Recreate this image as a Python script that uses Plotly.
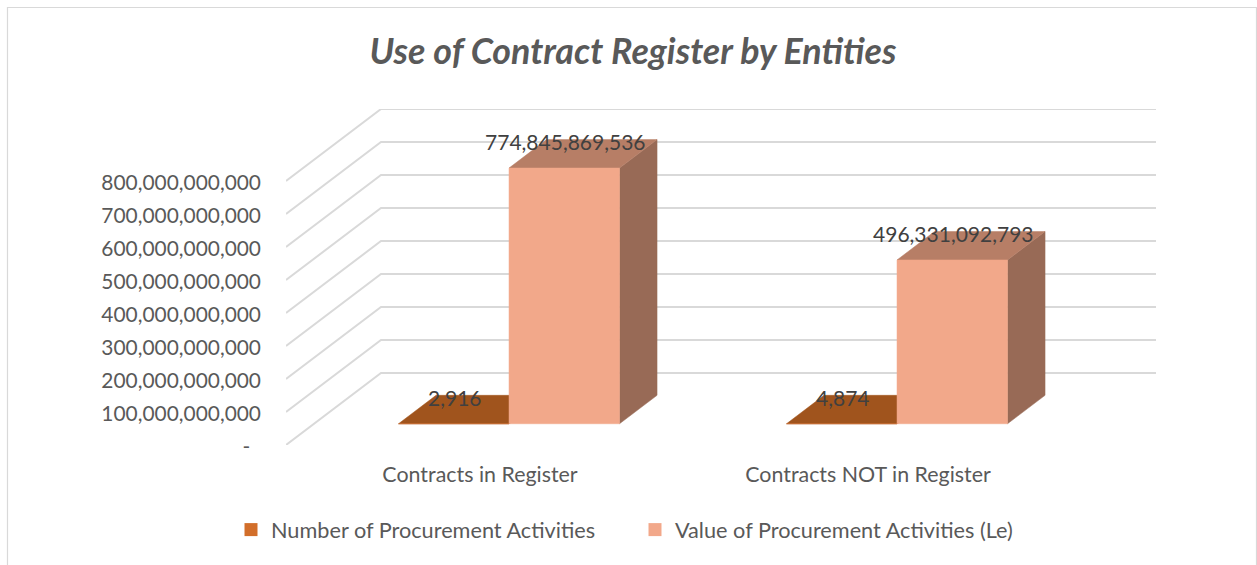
import plotly.graph_objects as go

# ---- data ----
categories = ["Contracts in Register", "Contracts NOT in Register"]
series_names = ["Number of Procurement Activities", "Value of Procurement Activities (Le)"]
number_of_activities = [2916, 4874]
value_of_activities = [774845869536, 496331092793]
y_ticks = [0, 100e9, 200e9, 300e9, 400e9, 500e9, 600e9, 700e9, 800e9]
y_tick_labels = ["-\u00a0\u00a0", "100,000,000,000", "200,000,000,000", "300,000,000,000", "400,000,000,000",
                 "500,000,000,000", "600,000,000,000", "700,000,000,000", "800,000,000,000"]

# ---- oblique-projection settings, expressed in axis units ----
PX_PER_CAT = 388.0
PX_PER_VAL = 33.0 / 100e9
DEPTH_DX = 95 / PX_PER_CAT          # full floor depth along x
DEPTH_DY = 72 / PX_PER_VAL          # full floor depth along y
BAR_W = 110.5 / PX_PER_CAT
BAR_SHIFT = 1 / PX_PER_CAT
D0, D1 = 0.295, 0.69                # bar front and back in floor depth
FONT = "Lato"
TXT = "#595959"
GRID = "#d9d9d9"
FACES = [dict(front="#C8662A", top="#A0541D", side="#7a3f16"),
         dict(front="#F2A88A", top="#B77E66", side="#986A56")]
LEGEND_COL = ["#D26E2A", "#F2A88A"]


def proj(x, v, d):
    return x + d * DEPTH_DX, v + d * DEPTH_DY


def poly(points, color):
    xs = [p[0] for p in points] + [points[0][0]]
    ys = [p[1] for p in points] + [points[0][1]]
    return go.Scatter(x=xs, y=ys, mode="lines", fill="toself", fillcolor=color,
                      line=dict(color=color, width=0.5), showlegend=False, hoverinfo="skip")


fig = go.Figure()

# gridlines: side wall then back wall
for t in y_ticks:
    a = proj(-0.5, t, 0)
    b = proj(-0.5, t, 1)
    c = proj(1.5, t, 1)
    fig.add_trace(go.Scatter(x=[a[0], b[0], c[0]], y=[a[1], b[1], c[1]], mode="lines",
                             line=dict(color=GRID, width=2), showlegend=False, hoverinfo="skip"))

# bars
series = [number_of_activities, value_of_activities]
for ci in range(len(categories)):
    for si, vals in enumerate(series):
        v = vals[ci]
        x0 = ci - BAR_W + si * BAR_W + BAR_SHIFT
        x1 = x0 + BAR_W
        f = FACES[si]
        fig.add_trace(poly([proj(x1, 0, D0), proj(x1, 0, D1), proj(x1, v, D1), proj(x1, v, D0)], f["side"]))
        fig.add_trace(poly([proj(x0, v, D0), proj(x1, v, D0), proj(x1, v, D1), proj(x0, v, D1)], f["top"]))
        fig.add_trace(poly([proj(x0, 0, D0), proj(x1, 0, D0), proj(x1, v, D0), proj(x0, v, D0)], f["front"]))

# data labels
LABEL_UP = 23 / PX_PER_VAL
for ci in range(len(categories)):
    for si, vals in enumerate(series):
        v = vals[ci]
        lx, ly = proj(ci - BAR_W / 2 + si * BAR_W + 2 * BAR_SHIFT, v, D0)
        fig.add_trace(go.Scatter(x=[lx], y=[ly + LABEL_UP], mode="text", text=[f"{v:,}"],
                                 textposition="middle center",
                                 textfont=dict(family=FONT, size=21, color="#404040"),
                                 showlegend=False, hoverinfo="skip", cliponaxis=False))

# legend entries
for name, col, lg in zip(series_names, LEGEND_COL, ["legend", "legend2"]):
    fig.add_trace(go.Scatter(x=[None], y=[None], mode="markers", name=name, legend=lg,
                             marker=dict(symbol="square", size=13, color=col)))

W, H = 1257, 565
L, R, T, B = 286, 101, 109, 120
pw, ph = W - L - R, H - T - B


def px(p):
    return (p - L) / pw


def py(p):
    return (H - B - p) / ph


legend_style = dict(orientation="h", xanchor="left", y=py(530), yanchor="middle",
                    font=dict(family=FONT, size=21.7, color=TXT), bgcolor="rgba(0,0,0,0)",
                    itemclick=False, itemdoubleclick=False)

fig.update_layout(
    width=W, height=H,
    margin=dict(l=L, r=R, t=T, b=B, autoexpand=False),
    paper_bgcolor="white", plot_bgcolor="white",
    title=dict(text="<b><i>Use of Contract Register by Entities</i></b>",
               x=633 / W, xref="container", xanchor="center",
               y=1 - 51 / H, yanchor="middle",
               font=dict(family=FONT, size=35.8, color=TXT)),
    xaxis=dict(range=[-0.5, -0.5 + pw / PX_PER_CAT], tickmode="array", tickvals=[0, 1],
               ticktext=categories, showgrid=False, zeroline=False, showline=False, ticks="",
               ticklabelstandoff=15, tickfont=dict(family=FONT, size=21.4, color=TXT)),
    yaxis=dict(range=[0, ph / PX_PER_VAL], tickmode="array", tickvals=y_ticks,
               ticktext=y_tick_labels, showgrid=False, zeroline=False, showline=False, ticks="",
               ticklabelstandoff=24, ticklabelshift=2,
               tickfont=dict(family=FONT, size=20.9, color=TXT)),
    legend=dict(x=px(231), **legend_style),
    legend2=dict(x=px(635), **legend_style),
    shapes=[dict(type="rect", xref="paper", yref="paper", layer="below",
                 x0=px(7.5), x1=px(1256.5), y0=py(600), y1=py(7.5),
                 line=dict(color=GRID, width=1.2))],
)

fig.write_html("out.html", config=dict(displayModeBar=False),
               post_script="document.body.style.margin='0';document.body.style.overflow='hidden';")
